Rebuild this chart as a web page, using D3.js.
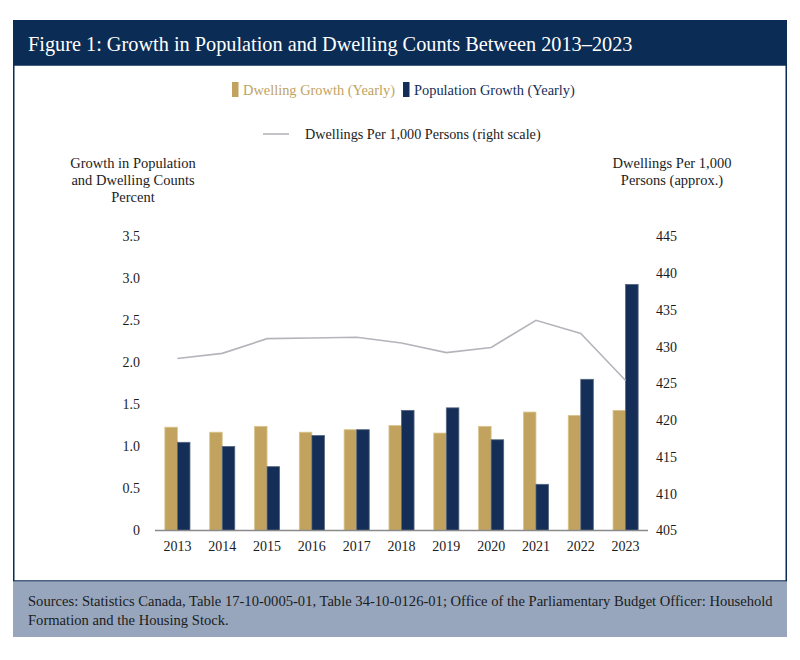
<!DOCTYPE html>
<html lang="en">
<head>
<meta charset="UTF-8">
<script src="https://cdnjs.cloudflare.com/ajax/libs/d3/7.8.5/d3.min.js"></script>
<style>
body { margin: 0; background: #fff; }
svg text { font-family: "Liberation Serif", "DejaVu Serif", serif; }
</style>
<title>Growth in Population and Dwelling Counts</title>
</head>
<body>
<div id="chart"></div>
<script>
// data
const years = ["2013","2014","2015","2016","2017","2018","2019","2020","2021","2022","2023"];
const dwellingGrowth = [1.23, 1.17, 1.24, 1.17, 1.20, 1.25, 1.16, 1.24, 1.41, 1.37, 1.43];
const populationGrowth = [1.05, 1.00, 0.76, 1.13, 1.20, 1.43, 1.46, 1.08, 0.55, 1.80, 2.93];
const dwellingsPer1000 = [428.4, 429.1, 431.1, 431.2, 431.3, 430.5, 429.2, 429.9, 433.6, 431.8, 425.4];
const leftTicks = [0, 0.5, 1.0, 1.5, 2.0, 2.5, 3.0, 3.5];
const leftTickLabels = ["0", "0.5", "1.0", "1.5", "2.0", "2.5", "3.0", "3.5"];
const rightTicks = [405, 410, 415, 420, 425, 430, 435, 440, 445];

const gold = "#c1a35f";
const navy = "#142e57";
const lineGrey = "#b4b4bb";

const width = 800, height = 660;
const svg = d3.select("#chart").append("svg")
  .attr("width", width)
  .attr("height", height);

// frame: header band, white body, footer band
svg.append("rect")
  .attr("x", 13).attr("y", 20)
  .attr("width", 774).attr("height", 46)
  .attr("fill", "#0b2c55");

svg.append("rect")
  .attr("x", 13.75).attr("y", 65)
  .attr("width", 772.5).attr("height", 516)
  .attr("fill", "#fff")
  .attr("stroke", "#0b2c55")
  .attr("stroke-width", 1.5);

svg.append("rect")
  .attr("x", 13).attr("y", 581.5)
  .attr("width", 774).attr("height", 55.5)
  .attr("fill", "#97a6bd");

svg.append("text")
  .attr("x", 28).attr("y", 51)
  .attr("fill", "#fff")
  .attr("font-size", 20.3)
  .text("Figure 1: Growth in Population and Dwelling Counts Between 2013\u20132023");

// footer text
const foot = svg.append("text")
  .attr("x", 28).attr("y", 606)
  .attr("fill", "#1c1c1c")
  .attr("font-size", 14.6);
foot.append("tspan").attr("x", 28)
  .text("Sources: Statistics Canada, Table 17-10-0005-01, Table 34-10-0126-01; Office of the Parliamentary Budget Officer: Household");
foot.append("tspan").attr("x", 28).attr("dy", 19)
  .text("Formation and the Housing Stock.");

// scales
const x0 = d3.scaleBand()
  .domain(years)
  .range([155, 648])
  .paddingInner(0.44)
  .paddingOuter(0.22);

const x1 = d3.scaleBand()
  .domain(["dw", "pop"])
  .range([0, x0.bandwidth()]);

const yL = d3.scaleLinear().domain([0, 3.5]).range([530.5, 236.5]);
const yR = d3.scaleLinear().domain([405, 445]).range([530.5, 236.5]);

// left axis
const axL = svg.append("g")
  .attr("transform", "translate(140,0)")
  .call(d3.axisLeft(yL).tickValues(leftTicks).tickSize(0).tickPadding(0)
    .tickFormat((d, i) => leftTickLabels[i]));
axL.select(".domain").remove();
axL.selectAll("text")
  .attr("font-family", "Liberation Serif")
  .attr("font-size", 14)
  .attr("fill", "#1c1c1c");

// right axis
const axR = svg.append("g")
  .attr("transform", "translate(656,0)")
  .call(d3.axisRight(yR).tickValues(rightTicks).tickSize(0).tickPadding(0)
    .tickFormat(d3.format("d")));
axR.select(".domain").remove();
axR.selectAll("text")
  .attr("font-family", "Liberation Serif")
  .attr("font-size", 14)
  .attr("fill", "#1c1c1c");

// bottom axis labels
const axB = svg.append("g")
  .attr("transform", "translate(0,541)")
  .call(d3.axisBottom(x0).tickSize(0).tickPadding(0));
axB.select(".domain").remove();
axB.selectAll("text")
  .attr("font-family", "Liberation Serif")
  .attr("font-size", 14)
  .attr("fill", "#1c1c1c");

// bars
const groups = svg.append("g").selectAll("g")
  .data(years)
  .join("g")
  .attr("transform", d => `translate(${x0(d)},0)`);

groups.append("rect")
  .attr("x", x1("dw"))
  .attr("y", (d, i) => yL(dwellingGrowth[i]))
  .attr("width", x1.bandwidth())
  .attr("height", (d, i) => yL(0) - yL(dwellingGrowth[i]))
  .attr("fill", gold)
  .attr("stroke", "#d9c58f")
  .attr("stroke-width", 0.8);

groups.append("rect")
  .attr("x", x1("pop"))
  .attr("y", (d, i) => yL(populationGrowth[i]))
  .attr("width", x1.bandwidth())
  .attr("height", (d, i) => yL(0) - yL(populationGrowth[i]))
  .attr("fill", navy)
  .attr("stroke", "#55657f")
  .attr("stroke-width", 0.8);

// baseline
svg.append("line")
  .attr("x1", 155).attr("x2", 648)
  .attr("y1", yL(0)).attr("y2", yL(0))
  .attr("stroke", "#8a8a8a")
  .attr("stroke-width", 1.5);

// dwellings per 1,000 line
const line = d3.line()
  .x((d, i) => x0(years[i]) + x0.bandwidth() / 2)
  .y(d => yR(d));

svg.append("path")
  .datum(dwellingsPer1000)
  .attr("d", line)
  .attr("fill", "none")
  .attr("stroke", lineGrey)
  .attr("stroke-width", 1.6);

// axis titles
const titleL = svg.append("text")
  .attr("text-anchor", "middle")
  .attr("font-size", 14.5)
  .attr("fill", "#1c1c1c");
["Growth in Population", "and Dwelling Counts", "Percent"].forEach((t, i) => {
  titleL.append("tspan").attr("x", 133).attr("y", 168 + i * 17).text(t);
});

const titleR = svg.append("text")
  .attr("text-anchor", "middle")
  .attr("font-size", 14.5)
  .attr("fill", "#1c1c1c");
["Dwellings Per 1,000", "Persons (approx.)"].forEach((t, i) => {
  titleR.append("tspan").attr("x", 672).attr("y", 168 + i * 17).text(t);
});

// legend
svg.append("rect")
  .attr("x", 232).attr("y", 82).attr("width", 6.5).attr("height", 15)
  .attr("fill", gold);
svg.append("text")
  .attr("x", 243).attr("y", 94.5)
  .attr("font-size", 14.4)
  .attr("fill", gold)
  .text("Dwelling Growth (Yearly)");

svg.append("rect")
  .attr("x", 403).attr("y", 82).attr("width", 6.5).attr("height", 15)
  .attr("fill", navy);
svg.append("text")
  .attr("x", 414).attr("y", 94.5)
  .attr("font-size", 14.4)
  .attr("fill", navy)
  .text("Population Growth (Yearly)");

svg.append("line")
  .attr("x1", 263).attr("x2", 289)
  .attr("y1", 134).attr("y2", 134)
  .attr("stroke", lineGrey)
  .attr("stroke-width", 1.6);
svg.append("text")
  .attr("x", 305).attr("y", 138.5)
  .attr("font-size", 14.2)
  .attr("fill", "#1c1c1c")
  .text("Dwellings Per 1,000 Persons (right scale)");
</script>
</body>
</html>
